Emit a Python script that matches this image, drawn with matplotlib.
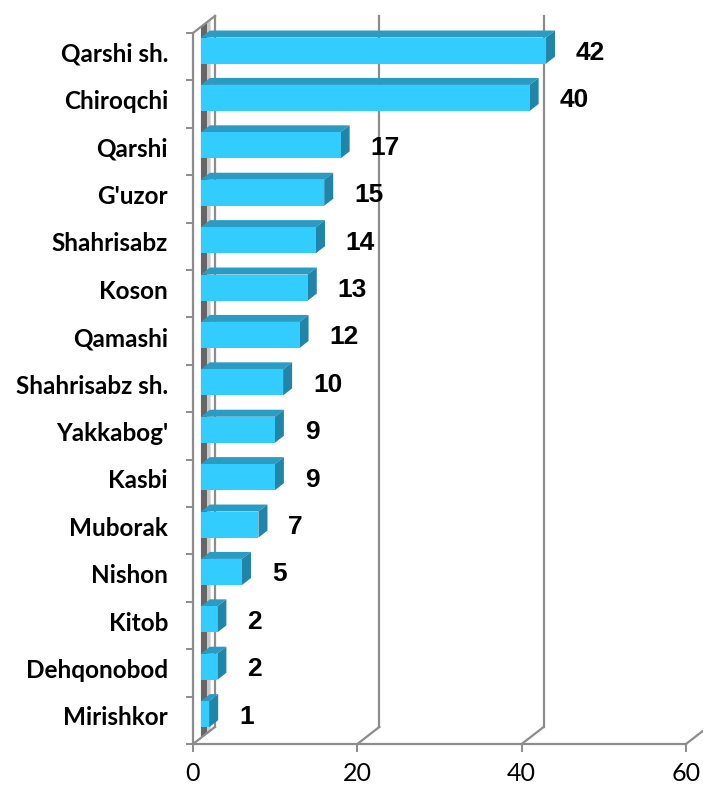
import matplotlib.pyplot as plt
from matplotlib.patches import Polygon

# --- Données ---
tumanlar = ["Qarshi sh.", "Chiroqchi", "Qarshi", "G'uzor", "Shahrisabz", "Koson",
            "Qamashi", "Shahrisabz sh.", "Yakkabog'", "Kasbi", "Muborak", "Nishon",
            "Kitob", "Dehqonobod", "Mirishkor"]
valeurs = [42, 40, 17, 15, 14, 13, 12, 10, 9, 9, 7, 5, 2, 2, 1]
graduations = [0, 20, 40, 60]

# --- Paramètres de la perspective (en unités de données) ---
prof_x = 2.68      # décalage horizontal du fond
prof_y = -0.36     # décalage vertical du fond (axe y inversé)
prof_avant, prof_arriere = 0.36, 0.77   # position des barres dans la profondeur
demi_barre = 0.275

gris = "#8c8c8c"
bleu_face = "#33ccff"
bleu_dessus = "#2a9cc4"
bleu_cote = "#1f86aa"


def pt(x, y, d):
    """Point (x, y) repoussé d'une fraction d de la profondeur."""
    return (x + d * prof_x, y + d * prof_y)


n = len(tumanlar)
x_max = graduations[-1]

fig = plt.figure(figsize=(7.03, 7.87), dpi=100)
ax = fig.add_axes([0, 0, 1, 1])
px_x = (686 - 193) / x_max
px_y = (744 - 33) / n
ax.set_xlim(-193 / px_x, (703 - 193) / px_x)
ax.set_ylim((787 - 33) / px_y, -33 / px_y)
ax.axis("off")

# --- Paroi latérale (bande sombre + bande claire) ---
ax.add_patch(Polygon([pt(0, 0, prof_avant), pt(0, 0, 0.64), pt(0, n, 0.64), pt(0, n, prof_avant)],
                     closed=True, facecolor="#666666", edgecolor="none", zorder=1))
ax.add_patch(Polygon([pt(0, 0, 0.64), pt(0, 0, 0.8), pt(0, n, 0.8), pt(0, n, 0.64)],
                     closed=True, facecolor="#c8c8c8", edgecolor="none", zorder=1))

# --- Quadrillage du fond et du sol ---
for v in graduations:
    if v > 0:
        ax.plot(*zip(pt(v, 0, 1), pt(v, n, 1)), color=gris, lw=1.6, zorder=1)
    ax.plot(*zip(pt(v, n, 0), pt(v, n, 1)), color=gris, lw=1.6, zorder=1)
    ax.plot([v, v], [n, n + 0.14], color=gris, lw=1.4, zorder=1)
    ax.text(v, n + 0.62, str(v), ha="center", va="center", fontsize=18,
            family=["Lato", "DejaVu Sans"], color="black")

ax.plot(*zip(pt(0, 0, 1), pt(0, n, 1)), color=gris, lw=1.6, zorder=1)
ax.plot(*zip(pt(0, 0, 0), pt(0, 0, 1)), color=gris, lw=1.6, zorder=1)
ax.plot([0, 0], [0, n], color=gris, lw=1.6, zorder=1)
ax.plot([0, x_max], [n, n], color=gris, lw=1.6, zorder=1)
for k in range(n + 1):
    ax.plot([-0.75, 0], [k, k], color=gris, lw=1.4, zorder=1)

# --- Barres 3D ---
for i, (nom, v) in enumerate(zip(tumanlar, valeurs)):
    c = i + 0.5
    haut, bas = c - demi_barre, c + demi_barre
    face = [pt(0, haut, prof_avant), pt(v, haut, prof_avant), pt(v, bas, prof_avant), pt(0, bas, prof_avant)]
    dessus = [pt(0, haut, prof_avant), pt(v, haut, prof_avant), pt(v, haut, prof_arriere), pt(0, haut, prof_arriere)]
    cote = [pt(v, haut, prof_avant), pt(v, haut, prof_arriere), pt(v, bas, prof_arriere), pt(v, bas, prof_avant)]
    ax.add_patch(Polygon(dessus, closed=True, facecolor=bleu_dessus, edgecolor="none", zorder=3))
    ax.add_patch(Polygon(cote, closed=True, facecolor=bleu_cote, edgecolor="none", zorder=3))
    ax.add_patch(Polygon(face, closed=True, facecolor=bleu_face, edgecolor="none", zorder=4))

    # étiquette de valeur
    ax.text(v + 4.6, c + prof_avant * prof_y + 0.05, str(v), ha="left", va="center",
            fontsize=19, fontweight="bold", family=["Liberation Sans", "DejaVu Sans"])
    # nom de la catégorie
    ax.text(-3.05, c - 0.05, nom, ha="right", va="center", fontsize=17.5,
            fontweight="bold", family=["Lato", "DejaVu Sans"])

fig.savefig("out.png", dpi=100)
